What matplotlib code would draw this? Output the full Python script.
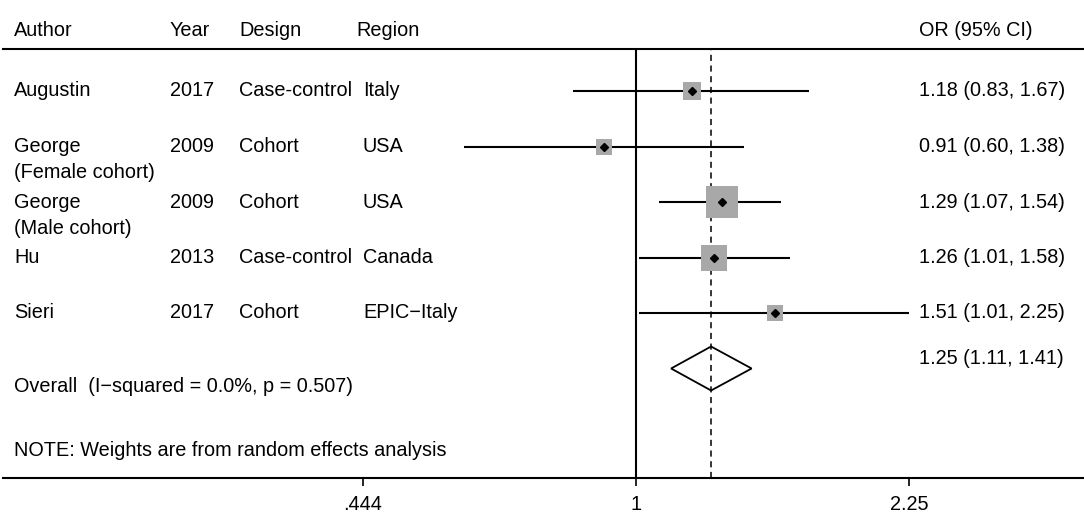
import numpy as np
import matplotlib
matplotlib.use("Agg")
import matplotlib.pyplot as plt
from matplotlib.patches import Polygon
from matplotlib.transforms import blended_transform_factory

plt.rcParams['font.family'] = ['Liberation Sans', 'DejaVu Sans']

# study data
authors = ["Augustin", "George\n(Female cohort)", "George\n(Male cohort)", "Hu", "Sieri"]
years = ["2017", "2009", "2009", "2013", "2017"]
designs = ["Case-control", "Cohort", "Cohort", "Case-control", "Cohort"]
regions = ["Italy", "USA", "USA", "Canada", "EPIC\u2212Italy"]
odds = [1.18, 0.91, 1.29, 1.26, 1.51]
lower = [0.83, 0.60, 1.07, 1.01, 1.01]
upper = [1.67, 1.38, 1.54, 1.58, 2.25]
weights = [12.3, 9.5, 40.5, 28.8, 8.9]  # percent

overall_or = 1.25
overall_lo = 1.11
overall_hi = 1.41
overall_label = "Overall  (I\u2212squared = 0.0%, p = 0.507)"
note = "NOTE: Weights are from random effects analysis"

tick_vals = [0.444, 1, 2.25]
tick_labels = [".444", "1", "2.25"]

W, H = 1084, 520
fig = plt.figure(figsize=(W / 100, H / 100), dpi=100)

# axes: top rule at y=49px, bottom axis at y=478px
top_px, bot_px, left_px = 49, 478, 3
ax = fig.add_axes([left_px / W, 1 - bot_px / H, 1 - left_px / W, (bot_px - top_px) / H])
ax.set_xscale('log')

# 1 sits at 636px, 336.5 px per log unit
px_per_ln = 336.5
x_one = 636
ax.set_xlim(np.exp((left_px - x_one) / px_per_ln), np.exp((W - x_one) / px_per_ln))

row0, step = 91, 55.5
ax.set_ylim((bot_px - row0) / step, (top_px - row0) / step)

for s in ['left', 'right']:
    ax.spines[s].set_visible(False)
for s in ['top', 'bottom']:
    ax.spines[s].set_linewidth(1.5)

ax.set_yticks([])
ax.minorticks_off()
ax.set_xticks(tick_vals)
ax.set_xticklabels(tick_labels)
ax.tick_params(axis='x', length=6, width=1.2, pad=6, labelsize=14.3)

ax.axvline(1, color='black', lw=1.5, zorder=1)
ax.axvline(overall_or, color='black', lw=1.1, linestyle=(0, (4, 3)), zorder=1)

rows = np.arange(len(odds))
sides = 5.03 * np.sqrt(weights) * 0.72
for i in rows:
    ax.plot([lower[i], upper[i]], [i, i], color='black', lw=1.5, zorder=2,
            solid_capstyle='butt')
    ax.plot(odds[i], i, marker='s', markersize=sides[i], color='#a8a8a8',
            markeredgewidth=0, zorder=3)
    ax.plot(odds[i], i, marker='D', markersize=4.2, color='black', zorder=4)

yo = len(odds)
half = 22 / step
diamond = Polygon([(overall_lo, yo), (overall_or, yo - half), (overall_hi, yo),
                   (overall_or, yo + half)], closed=True, fill=False,
                  edgecolor='black', lw=1.3, zorder=3)
ax.add_patch(diamond)

# text columns (x in pixels)
tr = blended_transform_factory(fig.transFigure, ax.transData)
fs = 14.3
col_x = {'author': 14, 'year': 170, 'design': 239, 'region': 363, 'or': 919}

hy = (30 - row0) / step
for label, px in [("Author", 14), ("Year", 170), ("Design", 239), ("Region", 356),
                  ("OR (95% CI)", 919)]:
    ax.text(px / W, hy, label, transform=tr, fontsize=fs, va='center', clip_on=False)

for i in rows:
    lines = authors[i].split('\n')
    for k, ln in enumerate(lines):
        ax.text(col_x['author'] / W, i + k * 0.47, ln, transform=tr, fontsize=fs, va='center')
    ax.text(col_x['year'] / W, i, years[i], transform=tr, fontsize=fs, va='center')
    ax.text(col_x['design'] / W, i, designs[i], transform=tr, fontsize=fs, va='center')
    ax.text(col_x['region'] / W, i, regions[i], transform=tr, fontsize=fs, va='center')
    ax.text(col_x['or'] / W, i, f"{odds[i]:.2f} ({lower[i]:.2f}, {upper[i]:.2f})",
            transform=tr, fontsize=fs, va='center')

ax.text(col_x['author'] / W, (387 - row0) / step, overall_label, transform=tr,
        fontsize=fs, va='center')
ax.text(col_x['or'] / W, (358 - row0) / step,
        f"{overall_or:.2f} ({overall_lo:.2f}, {overall_hi:.2f})", transform=tr,
        fontsize=fs, va='center')
ax.text(col_x['author'] / W, (451 - row0) / step, note, transform=tr, fontsize=fs,
        va='center')

fig.savefig("out.png", dpi=100)
